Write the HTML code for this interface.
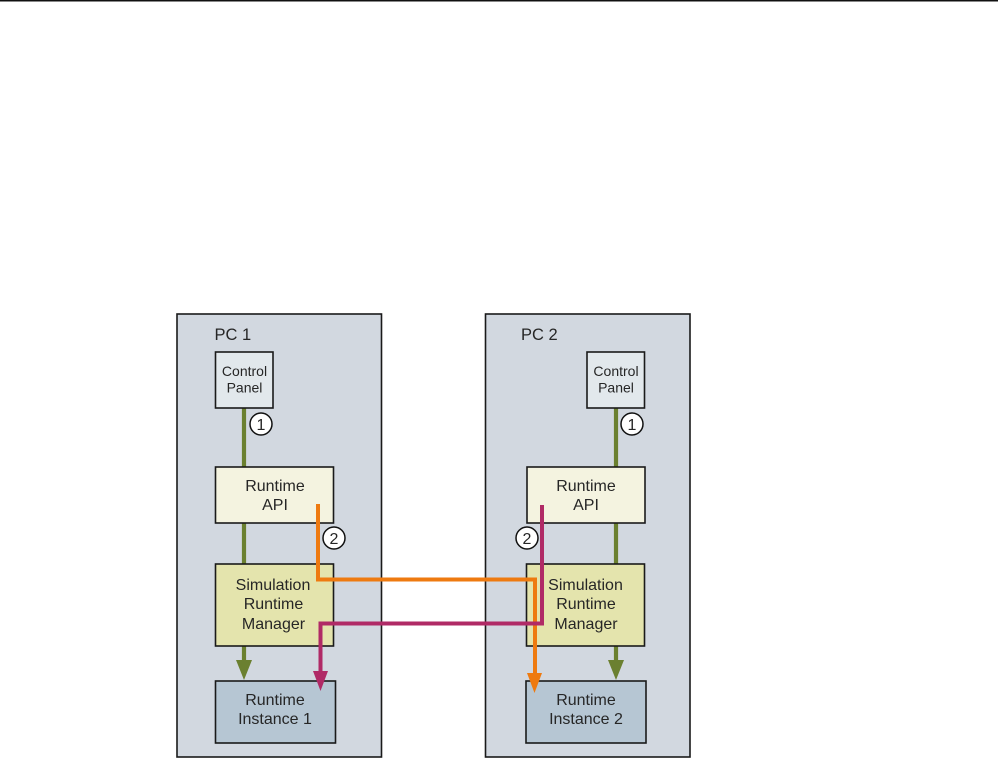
<!DOCTYPE html>
<html>
<head>
<meta charset="utf-8">
<style>
html,body{margin:0;padding:0;background:#fff}
svg{display:block;filter:blur(.35px)}
text{font-family:"Liberation Sans",Arial,sans-serif;fill:#262626;text-anchor:middle}
.b{stroke:#1a1a1a;stroke-width:1.6}
.t{font-size:16px}
.s{font-size:14px}
.p{font-size:16.500px;text-anchor:start}
.c{fill:#fff;stroke:#111;stroke-width:1.500}
.n{font-size:16px}
.l{fill:none;stroke-width:4}
</style>
</head>
<body>
<svg width="998" height="760" viewBox="0 0 998 760" xmlns="http://www.w3.org/2000/svg">
<rect x="0" y="0" width="998" height="1.500" fill="#111"/>

<rect class="b" x="177" y="314" width="204.500" height="443" fill="#d2d8e0"/>
<rect class="b" x="485.500" y="314" width="204.500" height="443" fill="#d2d8e0"/>

<text class="p" x="214.500" y="340">PC 1</text>
<text class="p" x="521" y="340">PC 2</text>

<!-- green connectors -->
<path d="M244 408V467M244 523V564M244 646V662" stroke="#6b8030" stroke-width="4.200" fill="none"/>
<path d="M236 660H252L244 680Z" fill="#6b8030"/>
<path d="M616 408V467M616 523V564M616 646V662" stroke="#6b8030" stroke-width="4.200" fill="none"/>
<path d="M608 660H624L616 680Z" fill="#6b8030"/>

<!-- PC1 boxes -->
<rect class="b" x="215.500" y="352" width="57.500" height="56" fill="#e2e8ec"/>
<rect class="b" x="215.500" y="467" width="118" height="56" fill="#f4f3e0"/>
<rect class="b" x="215.500" y="564" width="118" height="82" fill="#e4e4ad"/>
<rect class="b" x="215.500" y="681" width="120" height="62" fill="#b6c6d3"/>

<!-- PC2 boxes -->
<rect class="b" x="587" y="352" width="57.500" height="56" fill="#e2e8ec"/>
<rect class="b" x="527" y="467" width="118" height="56" fill="#f4f3e0"/>
<rect class="b" x="526.500" y="564" width="118" height="82" fill="#e4e4ad"/>
<rect class="b" x="526" y="681" width="120" height="62" fill="#b6c6d3"/>

<!-- labels PC1 -->
<text class="s" x="244.500" y="376">Control</text>
<text class="s" x="244.500" y="392.500">Panel</text>
<text class="t" x="275" y="491">Runtime</text>
<text class="t" x="275" y="510">API</text>
<text class="t" x="273" y="590">Simulation</text>
<text class="t" x="273.500" y="609">Runtime</text>
<text class="t" x="273.500" y="629">Manager</text>
<text class="t" x="275" y="705">Runtime</text>
<text class="t" x="275" y="724">Instance 1</text>

<!-- labels PC2 -->
<text class="s" x="616" y="376">Control</text>
<text class="s" x="616" y="392.500">Panel</text>
<text class="t" x="586" y="491">Runtime</text>
<text class="t" x="586" y="510">API</text>
<text class="t" x="585.500" y="590">Simulation</text>
<text class="t" x="586" y="609">Runtime</text>
<text class="t" x="586" y="629">Manager</text>
<text class="t" x="586" y="705">Runtime</text>
<text class="t" x="586" y="724">Instance 2</text>

<!-- orange -->
<path class="l" d="M318 504V579.500H535V676" stroke="#ee7a10"/>
<path d="M527 673H542L534.500 693Z" fill="#ee7a10"/>

<!-- magenta -->
<path class="l" d="M542 505V623.500H320.500V674" stroke="#b02a66"/>
<path d="M313 671H328L320.500 691Z" fill="#b02a66"/>

<!-- circles -->
<circle class="c" cx="261" cy="424" r="11"/>
<text class="n" x="261" y="430">1</text>
<circle class="c" cx="334" cy="538" r="11"/>
<text class="n" x="334" y="544">2</text>
<circle class="c" cx="632" cy="424" r="11"/>
<text class="n" x="632" y="430">1</text>
<circle class="c" cx="527" cy="538" r="11"/>
<text class="n" x="527" y="544">2</text>
</svg>
</body>
</html>
